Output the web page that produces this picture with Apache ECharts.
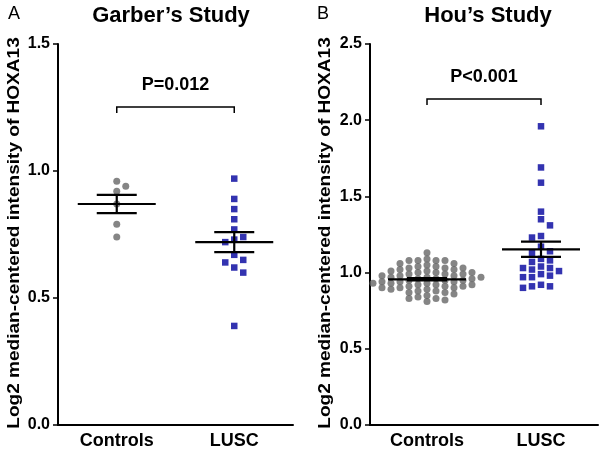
<!DOCTYPE html>
<html>
<head>
<meta charset="utf-8">
<script src="https://cdn.jsdelivr.net/npm/echarts@6/dist/echarts.min.js"></script>
<style>html,body{margin:0;padding:0;background:#fff}#c{width:607px;height:456px}</style>
</head>
<body>
<div id="c"></div>
<script>
// ---------- data ----------
const categories = ['Controls', 'LUSC'];

const garberControls = [0.96, 0.94, 0.92, 0.87, 0.79, 0.74];
const garberLusc = [0.97, 0.89, 0.85, 0.81, 0.77, 0.74, 0.73, 0.72, 0.67, 0.65, 0.64, 0.62, 0.60, 0.39];
const garberMean = [0.87, 0.72];
const garberSem = [0.036, 0.039];
const garberP = 'P=0.012';

const houControls = [1.13, 1.09, 1.08, 1.08, 1.08, 1.08, 1.06, 1.06, 1.05, 1.04, 1.04, 1.03, 1.03, 1.03,
  1.02, 1.02, 1.01, 1.01, 1.00, 1.00, 1.00, 0.99, 0.99, 0.99, 0.98, 0.98, 0.98, 0.97, 0.97, 0.97,
  0.96, 0.96, 0.96, 0.95, 0.95, 0.95, 0.94, 0.94, 0.94, 0.93, 0.93, 0.93, 0.92, 0.92, 0.92,
  0.91, 0.91, 0.91, 0.90, 0.90, 0.90, 0.89, 0.89, 0.88, 0.88, 0.87, 0.87, 0.86, 0.85, 0.84,
  0.83, 0.83, 0.82, 0.81];
const houLusc = [1.96, 1.69, 1.59, 1.40, 1.35, 1.31, 1.24, 1.23, 1.17, 1.14, 1.13, 1.09, 1.08, 1.07,
  1.04, 1.03, 1.03, 1.02, 1.01, 0.99, 0.98, 0.97, 0.97, 0.92, 0.91, 0.91, 0.90];
const houMean = [0.956, 1.153];
const houSem = [0.008, 0.05];
const houP = 'P<0.001';

const garberTicks = { min: 0, max: 1.5, interval: 0.5 };
const houTicks = { min: 0, max: 2.5, interval: 0.5 };
const garberBracket = [1.252, 1.228];
const houBracket = [2.139, 2.10];

// ---------- layout ----------
const FONT = "'Liberation Sans', Arial, sans-serif";
const gridA = { left: 58, top: 44, width: 235, height: 381 };
const gridB = { left: 370, top: 44, width: 228, height: 381 };
const GREY = '#666666';
const BLUE = '#00009c';

function swarmOffsets(values, pxPerUnit, step, minDy) {
  const idx = values.map((v, i) => i).sort((a, b) => values[b] - values[a]);
  const placed = [];
  const off = new Array(values.length);
  let flip = false;
  for (const i of idx) {
    const y = values[i] * pxPerUnit;
    for (let k = 0; k < 100; k++) {
      let cands;
      if (k === 0) cands = [0];
      else cands = flip ? [-k * step, k * step] : [k * step, -k * step];
      let ok = null;
      for (const x of cands) {
        if (!placed.some(p => p.x === x && Math.abs(p.y - y) < minDy)) { ok = x; break; }
      }
      if (ok !== null) {
        off[i] = ok; placed.push({ x: ok, y });
        if (ok !== 0) flip = !flip;
        break;
      }
    }
  }
  return off;
}

function scatterData(values, cat, pxPerUnit, step, minDy) {
  const offs = swarmOffsets(values, pxPerUnit, step, minDy);
  return values.map((v, i) => ({ value: [cat, v], symbolOffset: [offs[i], 0] }));
}

const pxA = gridA.height / (garberTicks.max - garberTicks.min);
const pxB = gridB.height / (houTicks.max - houTicks.min);

function errRender(params, api) {
  const c = api.value(0), m = api.value(1), s = api.value(2);
  const p = api.coord([c, m]);
  const hi = api.coord([c, m + s]);
  const lo = api.coord([c, m - s]);
  const st = { stroke: '#000', lineWidth: 2.2, fill: null };
  return {
    type: 'group',
    children: [
      { type: 'line', shape: { x1: p[0] - 39, y1: p[1], x2: p[0] + 39, y2: p[1] }, style: st },
      { type: 'line', shape: { x1: p[0], y1: hi[1], x2: p[0], y2: lo[1] }, style: st },
      { type: 'line', shape: { x1: p[0] - 20, y1: hi[1], x2: p[0] + 20, y2: hi[1] }, style: st },
      { type: 'line', shape: { x1: p[0] - 20, y1: lo[1], x2: p[0] + 20, y2: lo[1] }, style: st }
    ]
  };
}

function bracketSeries(idx, bracket, label) {
  return {
    type: 'custom', xAxisIndex: idx, yAxisIndex: idx, z: 5,
    data: [[0, 1, bracket[0], bracket[1]]],
    renderItem: function (params, api) {
      const a = api.coord([api.value(0), api.value(2)]);
      const b = api.coord([api.value(1), api.value(2)]);
      const aLow = api.coord([api.value(0), api.value(3)]);
      return {
        type: 'group',
        children: [
          { type: 'polyline', shape: { points: [[a[0], aLow[1]], [a[0], a[1]], [b[0], b[1]], [b[0], aLow[1]]] },
            style: { stroke: '#000', lineWidth: 1.5, fill: null } },
          { type: 'text', x: (a[0] + b[0]) / 2, y: a[1] - 22,
            style: { text: label, fill: '#000', font: 'bold 18px ' + FONT, align: 'center', verticalAlign: 'middle' } }
        ]
      };
    }
  };
}

function xAxis(idx) {
  return {
    type: 'category', gridIndex: idx, data: categories, boundaryGap: true,
    axisLine: { lineStyle: { color: '#000', width: 2 } },
    axisTick: { alignWithLabel: true, length: 5, lineStyle: { color: '#000', width: 1.5 } },
    axisLabel: { color: '#000', fontFamily: FONT, fontWeight: 'bold', fontSize: 18, margin: 7 },
    splitLine: { show: false }
  };
}
function yAxis(idx, t) {
  return {
    type: 'value', gridIndex: idx, min: t.min, max: t.max, interval: t.interval,
    axisLine: { show: true, lineStyle: { color: '#000', width: 2 } },
    axisTick: { show: true, length: 5, lineStyle: { color: '#000', width: 1.5 } },
    axisLabel: { color: '#000', fontFamily: FONT, fontWeight: 'bold', fontSize: 16, margin: 8,
      formatter: v => v.toFixed(1) },
    splitLine: { show: false }
  };
}

const yName = 'Log2 median-centered intensity of HOXA13';

const option = {
  animation: false,
  backgroundColor: '#fff',
  grid: [
    Object.assign({ containLabel: false }, gridA),
    Object.assign({ containLabel: false }, gridB)
  ],
  xAxis: [xAxis(0), xAxis(1)],
  yAxis: [yAxis(0, garberTicks), yAxis(1, houTicks)],
  graphic: [
    { type: 'text', left: 8, top: 5, style: { text: 'A', font: '18px ' + FONT, fill: '#000' } },
    { type: 'text', left: 317, top: 5, style: { text: 'B', font: '18px ' + FONT, fill: '#000' } },
    { type: 'text', x: 171, y: 16, style: { text: 'Garber’s Study', font: 'bold 22px ' + FONT, fill: '#000', align: 'center', verticalAlign: 'middle' } },
    { type: 'text', x: 488, y: 16, style: { text: 'Hou’s Study', font: 'bold 22px ' + FONT, fill: '#000', align: 'center', verticalAlign: 'middle' } },
    { type: 'text', x: 15, y: 233, rotation: Math.PI / 2, scaleX: 1.19,
      style: { text: yName, font: 'bold 16px ' + FONT, fill: '#000', align: 'center', verticalAlign: 'middle' } },
    { type: 'text', x: 326, y: 233, rotation: Math.PI / 2, scaleX: 1.19,
      style: { text: yName, font: 'bold 16px ' + FONT, fill: '#000', align: 'center', verticalAlign: 'middle' } }
  ],
  series: [
    { type: 'scatter', xAxisIndex: 0, yAxisIndex: 0, symbol: 'circle', symbolSize: 7,
      itemStyle: { color: GREY }, data: scatterData(garberControls, 0, pxA, 9, 9) },
    { type: 'scatter', xAxisIndex: 0, yAxisIndex: 0, symbol: 'rect', symbolSize: 6.5,
      itemStyle: { color: BLUE }, data: scatterData(garberLusc, 1, pxA, 9, 9) },
    { type: 'scatter', xAxisIndex: 1, yAxisIndex: 1, symbol: 'circle', symbolSize: 7,
      itemStyle: { color: GREY }, data: scatterData(houControls, 0, pxB, 9, 5.5) },
    { type: 'scatter', xAxisIndex: 1, yAxisIndex: 1, symbol: 'rect', symbolSize: 6.5,
      itemStyle: { color: BLUE }, data: scatterData(houLusc, 1, pxB, 9, 7) },
    { type: 'custom', xAxisIndex: 0, yAxisIndex: 0, z: 10, renderItem: errRender,
      data: categories.map((c, i) => [i, garberMean[i], garberSem[i]]) },
    { type: 'custom', xAxisIndex: 1, yAxisIndex: 1, z: 10, renderItem: errRender,
      data: categories.map((c, i) => [i, houMean[i], houSem[i]]) },
    bracketSeries(0, garberBracket, garberP),
    bracketSeries(1, houBracket, houP)
  ]
};

const chart = echarts.init(document.getElementById('c'), null, { renderer: 'canvas' });
chart.setOption(option);
</script>
</body>
</html>
